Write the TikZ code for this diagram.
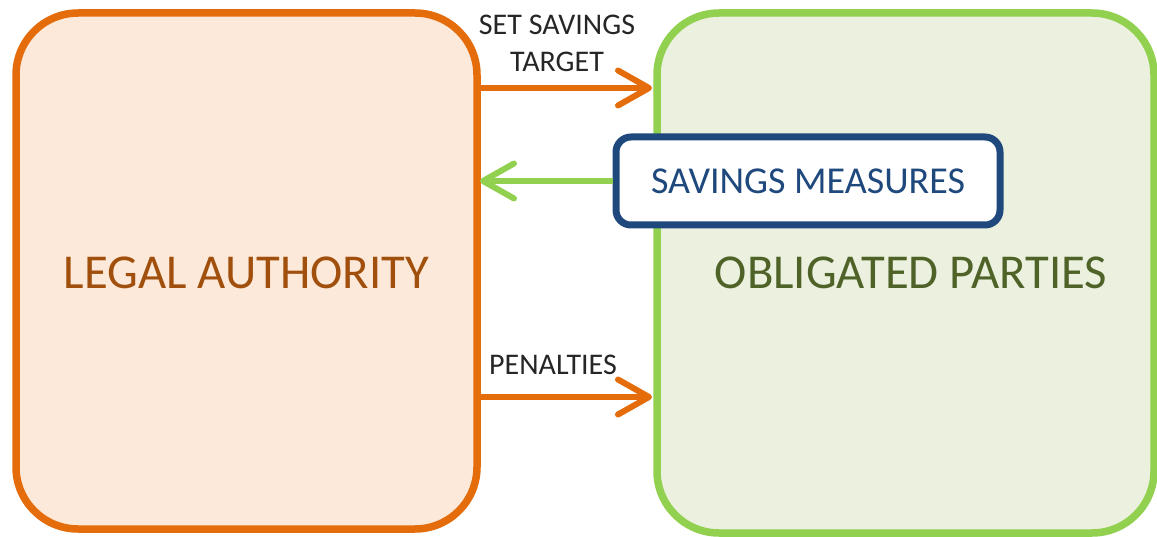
\documentclass[tikz,border=0pt]{standalone}
\usepackage{fontspec}
\setmainfont{Carlito}
\usetikzlibrary{arrows.meta}
\definecolor{orangeS}{HTML}{E46C0A}
\definecolor{orangeF}{HTML}{FDE9D9}
\definecolor{orangeT}{HTML}{A0500C}
\definecolor{greenS}{HTML}{92D050}
\definecolor{greenF}{HTML}{EBF1DE}
\definecolor{greenT}{HTML}{4F6228}
\definecolor{blueS}{HTML}{1F497D}
\tikzset{
  bigbox/.style={line width=7.5pt, rounded corners=62pt},
  flowarrow/.style={line width=6pt, -{Straight Barb[length=31pt, width=35pt, line cap=round, line join=round]}},
  lbl/.style={font=\fontsize{30}{37}\selectfont, text=black!85, align=center, inner sep=0pt},
  bigtext/.style={font=\fontsize{48.7}{52}\selectfont, inner sep=0pt}
}
\begin{document}
\begin{tikzpicture}[x=1pt,y=-1pt]
\useasboundingbox (0,0) rectangle (1157,537);
% boxes
\draw[bigbox, draw=orangeS, fill=orangeF] (16,13) rectangle (477,529);
\draw[bigbox, draw=greenS, fill=greenF] (657,13) rectangle (1154,533);
\node[bigtext, text=orangeT] (la) at (246.5,273) {LEGAL AUTHORITY};
\node[bigtext, text=greenT] (op) at (911,273) {OBLIGATED PARTIES};
\coordinate (laE) at (480,0);
\coordinate (opW) at (652,0);
% savings measures
\node[draw=blueS, line width=7pt, rounded corners=15pt, fill=white, minimum width=384pt, minimum height=88pt, text=blueS, font=\fontsize{38}{44}\selectfont] (sm) at (808,181) {SAVINGS MEASURES};
% arrows
\coordinate (a1) at (0,88);
\coordinate (a3) at (0,397);
\draw[flowarrow, draw=orangeS] (laE |- a1) -- (opW |- a1);
\draw[flowarrow, draw=orangeS] (laE |- a3) -- (opW |- a3);
\draw[flowarrow, draw=greenS] (sm.west) -- (laE |- sm.west);
% labels
\node[lbl] (t1) at (557,43) {SET SAVINGS\\TARGET};
\node[lbl] (t2) at (553,365) {PENALTIES};
\end{tikzpicture}
\end{document}
